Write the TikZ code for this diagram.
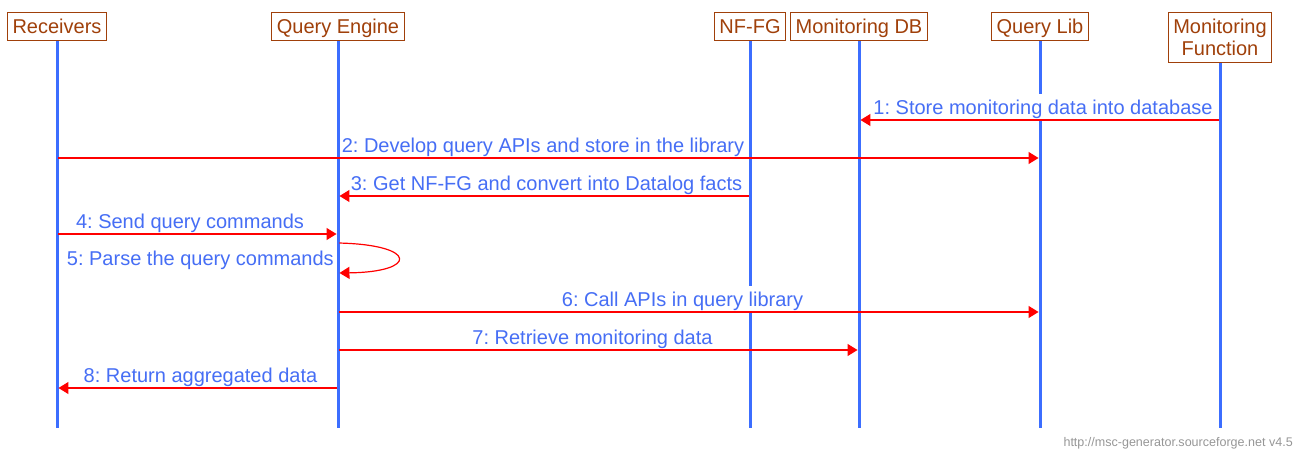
\documentclass[tikz,border=0pt]{standalone}
\usepackage{fontspec}
\setmainfont{Liberation Sans}
\usepackage{tikz}
\usetikzlibrary{arrows.meta}
\frenchspacing

\definecolor{hdrbrown}{RGB}{160,64,10}
\definecolor{lineblue}{RGB}{60,110,255}
\definecolor{textblue}{RGB}{70,110,245}
\definecolor{msgred}{RGB}{255,0,0}
\definecolor{footgray}{RGB}{150,150,150}

\tikzset{
  actor/.style={draw=hdrbrown, line width=0.75pt, fill=white, text=hdrbrown,
    font=\fontsize{15}{16.5}\selectfont, inner xsep=3.75pt, inner ysep=0pt,
    minimum height=21pt, anchor=north},
  actor line/.style={actor, text height=11pt, text depth=0pt},
  lifeline/.style={draw=lineblue, line width=2.25pt},
  msg/.style={draw=msgred, line width=0.9pt, -{Triangle[length=7.5pt,width=9pt]},
    shorten <=1.1pt, shorten >=1.1pt},
  msglabel/.style={text=textblue, fill=white, font=\fontsize{15}{16.5}\selectfont,
    inner xsep=0pt, inner ysep=1pt, text height=14pt, text depth=3pt, anchor=south}
}

\begin{document}
\begin{tikzpicture}[x=0.75pt,y=-0.75pt]
  \useasboundingbox (0,0) rectangle (1299,449);

  \node[actor line] (node1) at (57,12) {Receivers};
  \node[actor line] (node2) at (338,12) {Query Engine};
  \node[actor line] (node3) at (750,12) {NF-FG};
  \node[actor line] (node4) at (859,12) {Monitoring DB};
  \node[actor line] (node5) at (1040,12) {Query Lib};
  \node[actor, align=center, minimum height=37.5pt] (node6) at (1220,12) {Monitoring\\Function};

  \coordinate (bottom) at (0,428);
  \coordinate (row1) at (0,120);
  \coordinate (row2) at (0,158);
  \coordinate (row3) at (0,196);
  \coordinate (row4) at (0,234);
  \coordinate (row5a) at (0,243);
  \coordinate (row5b) at (0,273);
  \coordinate (row6) at (0,312);
  \coordinate (row7) at (0,350);
  \coordinate (row8) at (0,388);

  \foreach \n in {1,...,6}
    \draw[lifeline] (node\n) -- (node\n |- bottom);

  \node[msglabel] (lbl1) at (1043,120) {1: Store monitoring data into database};
  \node[msglabel] (lbl2) at (543,158) {2: Develop query APIs and store in the library};
  \node[msglabel] (lbl3) at (546.5,196) {3: Get NF-FG and convert into Datalog facts};
  \node[msglabel] (lbl4) at (190,234) {4: Send query commands};
  \node[msglabel, anchor=south east] (lbl5) at (334,271) {5: Parse the query commands};
  \node[msglabel] (lbl6) at (682.5,312) {6: Call APIs in query library};
  \node[msglabel] (lbl7) at (592.5,350) {7: Retrieve monitoring data};
  \node[msglabel] (lbl8) at (200.5,388) {8: Return aggregated data};

  \draw[msg] (node6 |- row1) -- (node4 |- row1);
  \draw[msg] (node1 |- row2) -- (node5 |- row2);
  \draw[msg] (node3 |- row3) -- (node2 |- row3);
  \draw[msg] (node1 |- row4) -- (node2 |- row4);
  \draw[msg] (node2 |- row5a) .. controls +(80,2) and +(80,-1) .. (node2 |- row5b);
  \draw[msg] (node2 |- row6) -- (node5 |- row6);
  \draw[msg] (node2 |- row7) -- (node4 |- row7);
  \draw[msg] (node2 |- row8) -- (node1 |- row8);

  \node[font=\fontsize{9.4}{11}\selectfont, text=footgray, anchor=base east, inner sep=0pt]
    (credit) at (1293,446) {http://msc-generator.sourceforge.net v4.5};
\end{tikzpicture}
\end{document}
